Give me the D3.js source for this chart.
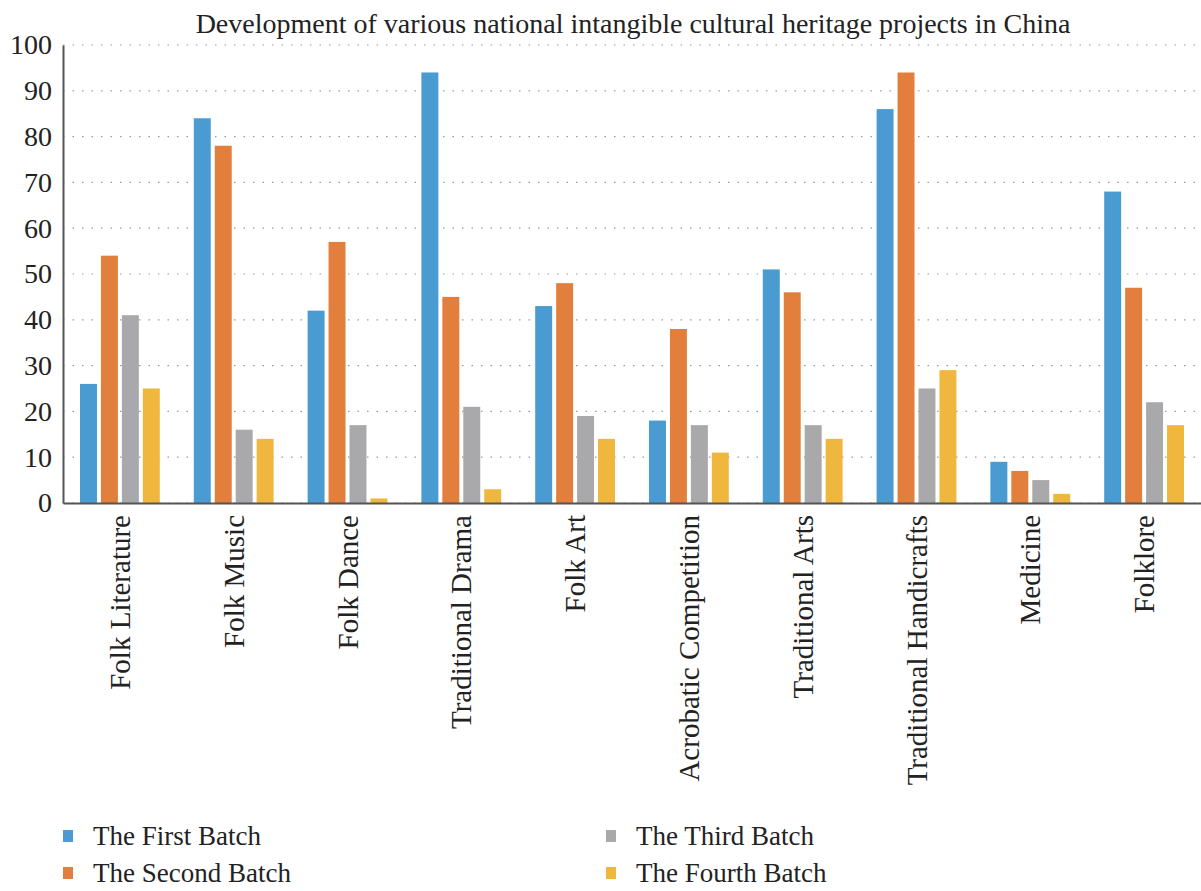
<!DOCTYPE html>
<html>
<head>
<meta charset="utf-8">
<script src="https://cdn.jsdelivr.net/npm/d3@7"></script>
<style>
  body { margin: 0; background: #fff; }
  svg { font-family: "Liberation Serif", "DejaVu Serif", serif; }
</style>
</head>
<body>
<div id="chart"></div>
<script>
const categories = ['Folk Literature', 'Folk Music', 'Folk Dance', 'Traditional Drama', 'Folk Art',
    'Acrobatic Competition', 'Traditional Arts', 'Traditional Handicrafts', 'Medicine', 'Folklore'];
const seriesNames = ['The First Batch', 'The Second Batch', 'The Third Batch', 'The Fourth Batch'];
const firstBatch = [26, 84, 42, 94, 43, 18, 51, 86, 9, 68];
const secondBatch = [54, 78, 57, 45, 48, 38, 46, 94, 7, 47];
const thirdBatch = [41, 16, 17, 21, 19, 17, 17, 25, 5, 22];
const fourthBatch = [25, 14, 1, 3, 14, 11, 14, 29, 2, 17];
const yTicks = [0, 10, 20, 30, 40, 50, 60, 70, 80, 90, 100];
const colors = ['#4a9bd2', '#e27f3d', '#a9a9ac', '#f0b73e'];

const series = [firstBatch, secondBatch, thirdBatch, fourthBatch];
const data = categories.map((c, i) => ({
    label: c,
    values: series.map((s, k) => ({ key: seriesNames[k], value: s[i] }))
}));

const width = 1201, height = 891;
const margin = { top: 45, right: 0, bottom: 388, left: 63 };
const innerW = width - margin.left - margin.right;
const innerH = height - margin.top - margin.bottom;

const svg = d3.select('#chart').append('svg')
    .attr('width', width).attr('height', height);

// Title.
svg.append('text')
    .attr('x', 633).attr('y', 33)
    .attr('text-anchor', 'middle')
    .style('font-size', '28px')
    .attr('fill', '#222')
    .text('Development of various national intangible cultural heritage projects in China');

const g = svg.append('g').attr('transform', `translate(${margin.left},${margin.top})`);

const x = d3.scaleBand().domain(categories).range([0, innerW]);
const x1 = d3.scaleBand().domain(seriesNames).range([17, x.bandwidth() - 17]).paddingInner(0.19);
const y = d3.scaleLinear().domain([0, 100]).range([innerH, 0]);

// Dotted gridlines.
g.append('g')
    .selectAll('line')
    .data(yTicks)
    .enter().append('line')
        .attr('x1', 0).attr('x2', innerW - 5)
        .attr('y1', d => y(d)).attr('y2', d => y(d))
        .attr('stroke', '#9a9a9a')
        .attr('stroke-width', 1.2)
        .attr('stroke-dasharray', '1.5,8');

// Bars.
g.append('g')
    .selectAll('g')
    .data(data)
    .enter().append('g')
        .attr('transform', d => `translate(${x(d.label)},0)`)
    .selectAll('rect')
    .data(d => d.values)
    .enter().append('rect')
        .attr('x', d => x1(d.key))
        .attr('y', d => y(d.value))
        .attr('width', x1.bandwidth())
        .attr('height', d => innerH - y(d.value))
        .attr('fill', (d, i) => colors[i]);

// Y axis.
const yAxis = g.append('g')
    .call(d3.axisLeft(y).tickValues(yTicks).tickSize(0).tickPadding(11));
yAxis.select('.domain').attr('stroke', '#555').attr('stroke-width', 2);
yAxis.selectAll('text')
    .style('font-size', '28px')
    .style('font-family', '"Liberation Serif", serif')
    .attr('fill', '#222');

// X axis.
const xAxis = g.append('g')
    .attr('transform', `translate(0,${innerH})`)
    .call(d3.axisBottom(x).tickSize(0).tickPadding(12));
xAxis.select('.domain').attr('stroke', '#555').attr('stroke-width', 2);
xAxis.selectAll('text')
    .style('font-size', '29px')
    .style('font-family', '"Liberation Serif", serif')
    .attr('fill', '#222')
    .attr('transform', 'rotate(-90)')
    .attr('text-anchor', 'end')
    .attr('dy', '0.35em')
    .attr('x', -12)
    .attr('y', 0);

// Legend.
const legendPos = [[63, 836], [63, 873], [606, 836], [606, 873]];
const legend = svg.append('g')
    .selectAll('g')
    .data(seriesNames)
    .enter().append('g')
        .attr('transform', (d, i) => `translate(${legendPos[i][0]},${legendPos[i][1]})`);
legend.append('rect')
    .attr('x', 0).attr('y', -6).attr('width', 10).attr('height', 12)
    .attr('fill', (d, i) => colors[i]);
legend.append('text')
    .attr('x', 30).attr('y', 0).attr('dy', '0.35em')
    .style('font-size', '27px')
    .attr('fill', '#222')
    .text(d => d);
</script>
</body>
</html>
